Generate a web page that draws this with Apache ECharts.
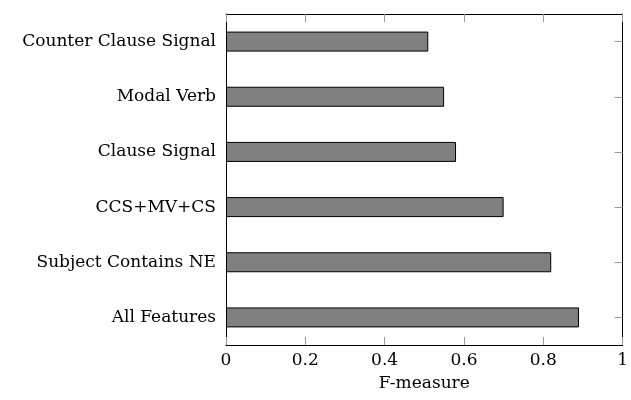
<!DOCTYPE html>
<html>
<head>
<meta charset="utf-8">
<script src="https://cdn.jsdelivr.net/npm/echarts@6/dist/echarts.min.js"></script>
<style>html,body{margin:0;padding:0;background:#fff}#c{width:631px;height:400px}</style>
</head>
<body>
<div id="c"></div>
<script>
const categories = ["Counter Clause Signal", "Modal Verb", "Clause Signal", "CCS+MV+CS", "Subject Contains NE", "All Features"];
const values = [0.51, 0.55, 0.58, 0.70, 0.82, 0.89];
const xTicks = [0, 0.2, 0.4, 0.6, 0.8, 1];

const font = "DejaVu Serif";
const chart = echarts.init(document.getElementById('c'), null, {renderer: 'canvas'});
const tickStyle = {show: true, inside: true, length: 8, lineStyle: {color: '#999', width: 1}};
chart.setOption({
  animation: false,
  grid: {left: 226, right: 7, top: 14, bottom: 55, containLabel: false},
  xAxis: [
    {type: 'value', min: 0, max: 1, interval: 0.2, position: 'bottom',
     name: 'F-measure', nameLocation: 'middle', nameGap: 30,
     nameTextStyle: {fontFamily: font, fontSize: 17, color: '#000'},
     axisLine: {show: true, onZero: false, lineStyle: {color: '#000', width: 1}},
     axisTick: tickStyle, splitLine: {show: false},
     axisLabel: {fontFamily: font, fontSize: 17, color: '#000', margin: 7,
       formatter: v => { const t = xTicks.find(x => Math.abs(x - v) < 1e-9); return t === undefined ? '' : String(t); }}},
    {type: 'value', min: 0, max: 1, interval: 0.2, position: 'top',
     axisLine: {show: true, onZero: false, lineStyle: {color: '#000', width: 1}},
     axisTick: tickStyle, axisLabel: {show: false}, splitLine: {show: false}}
  ],
  yAxis: [
    {type: 'category', data: categories, inverse: true, position: 'left',
     axisLine: {show: true, onZero: false, lineStyle: {color: '#000', width: 1}},
     axisTick: {show: false},
     axisLabel: {fontFamily: font, fontSize: 17, color: '#000', margin: 10}},
    {type: 'category', data: categories, inverse: true, position: 'right',
     axisLine: {show: true, onZero: false, lineStyle: {color: '#000', width: 1}},
     axisTick: {show: true, inside: true, alignWithLabel: true, length: 8, lineStyle: {color: '#999', width: 1}},
     axisLabel: {show: false}}
  ],
  series: [{
    type: 'bar', data: values, xAxisIndex: 0, yAxisIndex: 0, barWidth: 20,
    itemStyle: {color: '#808080', borderColor: '#000', borderWidth: 1}
  }]
});
</script>
</body>
</html>
